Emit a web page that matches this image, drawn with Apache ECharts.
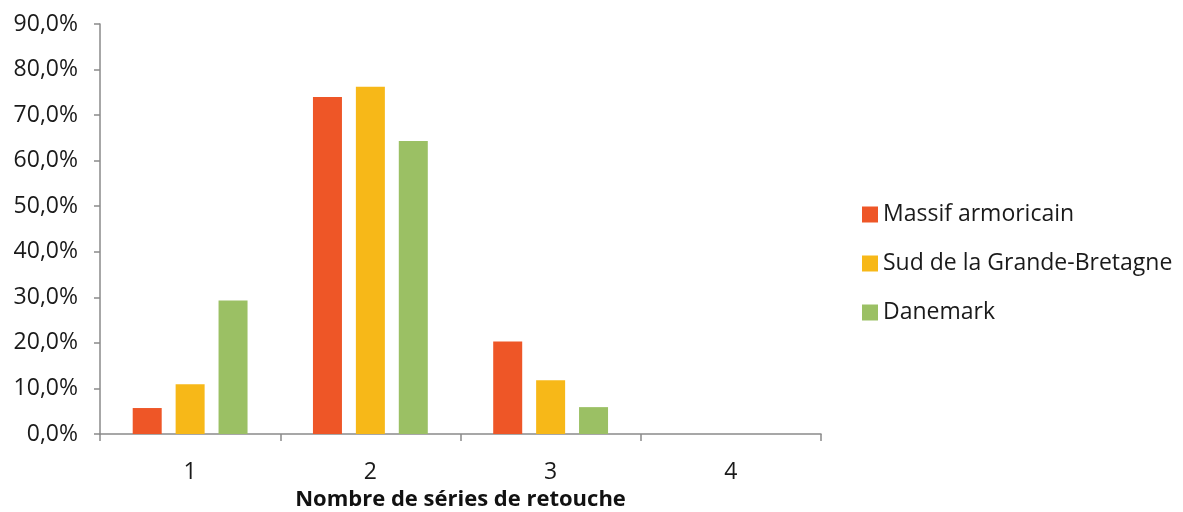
<!DOCTYPE html>
<html><head><meta charset="utf-8">
<script src="https://cdn.jsdelivr.net/npm/echarts@6/dist/echarts.min.js"></script>
<style>html,body{margin:0;padding:0;background:#fff}#c{width:1183px;height:512px}</style>
</head><body><div id="c"></div>
<script>
const categories = ['1', '2', '3', '4'];
const seriesNames = ['Massif armoricain', 'Sud de la Grande-Bretagne', 'Danemark'];
const massif = [5.7, 74.0, 20.3, 0];
const sudGB = [10.9, 76.2, 11.8, 0];
const danemark = [29.3, 64.3, 5.9, 0];
const colors = ['#EE5627', '#F7B818', '#9BC064'];
const yTicks = [0, 10, 20, 30, 40, 50, 60, 70, 80, 90];

const font = 'Open Sans';
const chart = echarts.init(document.getElementById('c'));
const values = [massif, sudGB, danemark];
chart.setOption({
  animation: false,
  textStyle: { fontFamily: font },
  grid: { left: 100, right: 362, top: 24, bottom: 78, containLabel: false, outerBoundsMode: 'none' },
  legend: {
    orient: 'vertical', left: 862, top: 203, itemWidth: 16, itemHeight: 16, itemGap: 26,
    padding: 0, icon: 'rect',
    textStyle: { fontFamily: font, fontSize: 23, color: '#1a1a1a' },
    data: seriesNames
  },
  xAxis: {
    type: 'category', data: categories,
    axisLine: { lineStyle: { color: '#8a8a8a', width: 1.5 } },
    axisTick: { show: true, length: 7, lineStyle: { color: '#8a8a8a', width: 1.5 } },
    axisLabel: { fontSize: 23, color: '#1a1a1a', margin: 27, fontFamily: font },
    name: 'Nombre de séries de retouche', nameLocation: 'middle', nameGap: 53,
    nameTextStyle: { fontSize: 22, fontWeight: 'bold', color: '#111', fontFamily: font }
  },
  yAxis: {
    type: 'value', min: yTicks[0], max: yTicks[yTicks.length - 1], interval: 10,
    splitLine: { show: false },
    axisLine: { show: true, lineStyle: { color: '#8a8a8a', width: 1.5 } },
    axisTick: { show: true, length: 6, lineStyle: { color: '#8a8a8a', width: 1.5 } },
    axisLabel: { fontSize: 23, color: '#1a1a1a', margin: 22, fontFamily: font,
      formatter: v => v.toFixed(1).replace('.', ',') + '%' }
  },
  series: seriesNames.map((n, i) => ({
    name: n, type: 'bar', data: values[i], barWidth: 29, barGap: '48%',
    itemStyle: { color: colors[i] }
  }))
});
</script></body></html>
